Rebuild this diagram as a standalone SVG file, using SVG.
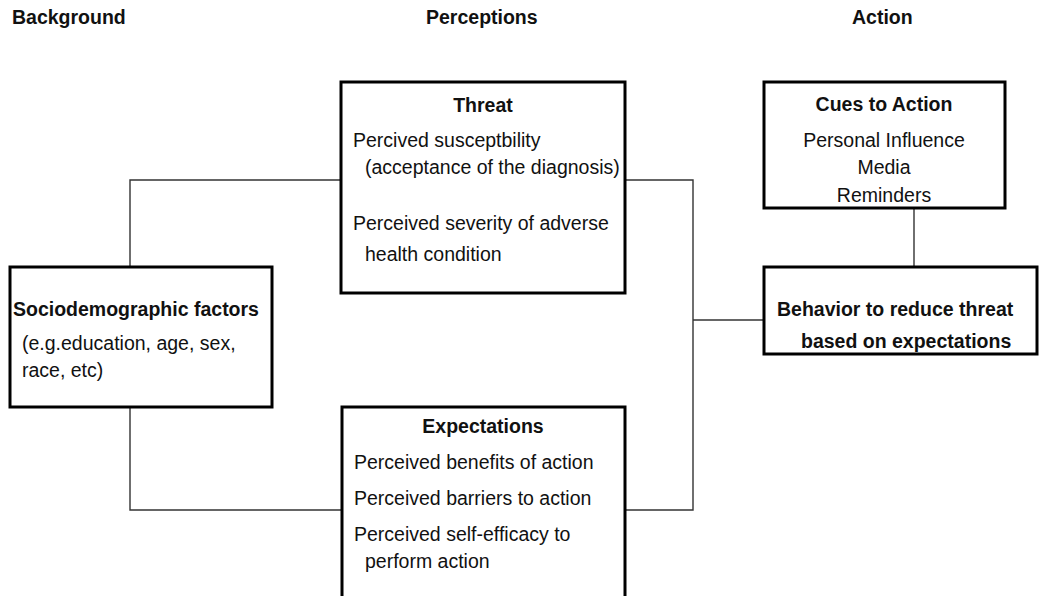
<svg xmlns="http://www.w3.org/2000/svg" width="1039" height="596" viewBox="0 0 1039 596">
<style>
  text { font-family: "Liberation Sans", Arial, sans-serif; font-size: 19.5px; fill: #111; }
  .b { font-weight: bold; }
  .c { text-anchor: middle; }
  .box { fill: #fff; stroke: #000; stroke-width: 3; }
  .ln { fill: none; stroke: #333; stroke-width: 1.4; }
</style>
<rect width="1039" height="596" fill="#fff"/>
<g id="headers">
  <text class="b" x="12" y="24">Background</text>
  <text class="b" x="426" y="24">Perceptions</text>
  <text class="b" x="852" y="24">Action</text>
</g>
<g id="connectors">
  <polyline class="ln" points="340,180 130,180 130,267"/>
  <polyline class="ln" points="130,407 130,510 342,510"/>
  <polyline class="ln" points="625,180 693,180 693,510 625,510"/>
  <line class="ln" x1="693" y1="320" x2="763" y2="320"/>
  <line class="ln" x1="914" y1="208" x2="914" y2="267"/>
</g>
<g id="threat">
  <rect class="box" x="341" y="82" width="284" height="211"/>
  <text class="b c" x="483" y="112">Threat</text>
  <text x="353" y="147">Percived susceptbility</text>
  <text x="365" y="174">(acceptance of the diagnosis)</text>
  <text x="353" y="230">Perceived severity of adverse</text>
  <text x="365" y="261">health condition</text>
</g>
<g id="cues">
  <rect class="box" x="764" y="82" width="241" height="126"/>
  <text class="b c" x="884" y="111">Cues to Action</text>
  <text class="c" x="884" y="147">Personal Influence</text>
  <text class="c" x="884" y="174">Media</text>
  <text class="c" x="884" y="202">Reminders</text>
</g>
<g id="behavior">
  <rect class="box" x="764" y="267" width="273" height="87"/>
  <text class="b" x="777" y="316">Behavior to reduce threat</text>
  <text class="b" x="801" y="348">based on expectations</text>
</g>
<g id="socio">
  <rect class="box" x="10" y="267" width="262" height="140"/>
  <text class="b" x="13" y="316">Sociodemographic factors</text>
  <text x="22" y="350">(e.g.education, age, sex,</text>
  <text x="22" y="377">race, etc)</text>
</g>
<g id="expectations">
  <rect class="box" x="342" y="407" width="283" height="200"/>
  <text class="b c" x="483" y="433">Expectations</text>
  <text x="354" y="469">Perceived benefits of action</text>
  <text x="354" y="505">Perceived barriers to action</text>
  <text x="354" y="541">Perceived self-efficacy to</text>
  <text x="365" y="568">perform action</text>
</g>
</svg>
